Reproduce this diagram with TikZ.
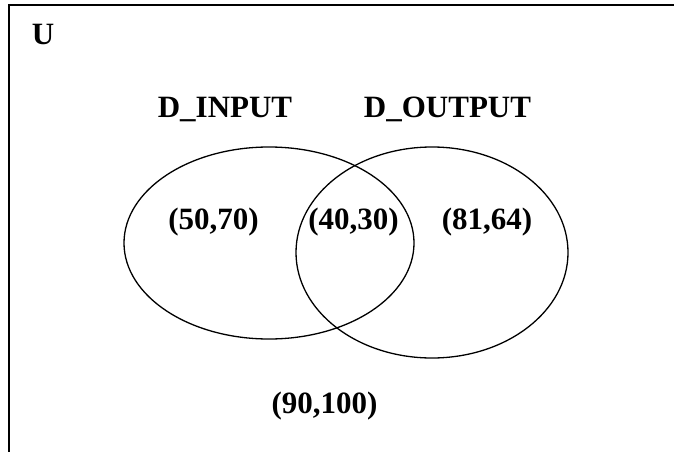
\documentclass[tikz,border=0pt]{standalone}
\usepackage{fontspec}
\setmainfont{Liberation Serif}
\usetikzlibrary{shapes.geometric}
\begin{document}
\begin{tikzpicture}[x=1pt,y=-1pt,
  lbl/.style={inner sep=0pt, anchor=base, font=\fontsize{31}{31}\selectfont\bfseries},
  setshape/.style={draw, ellipse, inner sep=0pt, line width=1.3pt}]
\useasboundingbox (0,0) rectangle (674,452);
\clip (0,0) rectangle (674,452);
\draw[line width=2pt] (9,5) rectangle (690,470);
\node[lbl] (u) at (43,45) {U};
\node[setshape, minimum width=290pt, minimum height=192pt] (din) at (269,243) {};
\node[setshape, minimum width=272pt, minimum height=211pt] (dout) at (432,252.5) {};
\node[lbl] (lin) at (225,117.5) {D\_INPUT};
\node[lbl] (lout) at (447.5,117.5) {D\_OUTPUT};
\node[lbl] (a) at (213.5,229) {(50,70)};
\node[lbl] (b) at (353.5,229) {(40,30)};
\node[lbl] (c) at (487,229) {(81,64)};
\node[lbl] (d) at (324.5,413) {(90,100)};
\end{tikzpicture}
\end{document}
